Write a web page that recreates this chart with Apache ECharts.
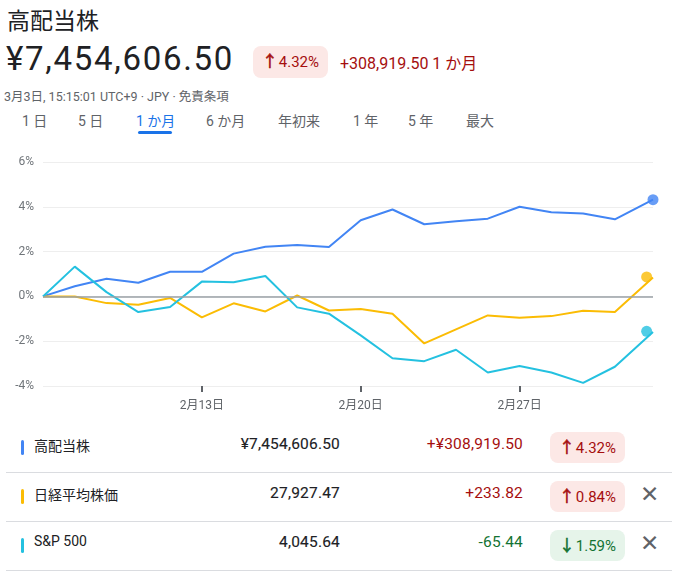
<!DOCTYPE html>
<html><head><meta charset="utf-8">
<script src="https://cdn.jsdelivr.net/npm/echarts@6/dist/echarts.min.js"></script>
<style>
html,body{margin:0;padding:0;background:#fff;width:678px;height:572px;overflow:hidden;font-family:Roboto,"Noto Sans CJK JP",sans-serif;color:#202124;}
.abs{position:absolute;white-space:nowrap;}
#chart{position:absolute;left:0;top:140px;width:678px;height:280px;}
.badge{position:absolute;height:31px;line-height:31px;border-radius:8px;padding:0 9px;font-size:15px;}
.up{background:#fce8e6;color:#a50e0e;}
.down{background:#e6f4ea;color:#137333;}
.arr{display:inline-block;font-size:1.05em;margin-right:1px;-webkit-text-stroke:0.6px currentColor;}
.sep{position:absolute;left:6px;width:666px;height:1px;background:#dadce0;}
.bar{position:absolute;left:21px;width:3px;height:15px;border-radius:2px;}
.name{position:absolute;left:34px;font-size:14px;color:#202124;}
.val{position:absolute;right:338px;font-size:15.5px;font-weight:400;color:#202124;letter-spacing:0.2px;-webkit-text-stroke:0.12px #202124;}
.chg{position:absolute;right:155px;font-size:15.5px;letter-spacing:0.2px;}
.x{position:absolute;left:640px;font-size:23px;color:#5f6368;font-family:"DejaVu Sans",sans-serif;}
.tab{position:absolute;top:110px;font-size:14px;color:#5f6368;}
</style></head>
<body>
<div class="abs" style="left:7px;top:2px;font-size:23px;">高配当株</div>
<div class="abs" style="left:6px;top:39px;font-size:33px;letter-spacing:1.7px;">¥7,454,606.50</div>
<div class="abs up" style="left:253px;top:46px;height:32px;line-height:32px;border-radius:8px;padding:0 9px;font-size:15px;"><span class="arr">↑</span>4.32%</div>
<div class="abs" style="left:340px;top:50px;font-size:16px;color:#a50e0e;">+308,919.50 1 か月</div>
<div class="abs" style="left:4px;top:86px;font-size:12.5px;color:#5f6368;">3月3日, 15:15:01 UTC+9 · JPY · 免責条項</div>

<div class="tab" style="left:22px;">1 日</div>
<div class="tab" style="left:78px;">5 日</div>
<div class="tab" style="left:136px;color:#1a73e8;">1 か月</div>
<div class="abs" style="left:138px;top:131px;width:34px;height:3px;border-radius:2px;background:#1a73e8;"></div>
<div class="tab" style="left:206px;">6 か月</div>
<div class="tab" style="left:278px;">年初来</div>
<div class="tab" style="left:353px;">1 年</div>
<div class="tab" style="left:408px;">5 年</div>
<div class="tab" style="left:466px;">最大</div>

<div id="chart"></div>

<div class="bar" style="top:440px;background:#4285f4;"></div>
<div class="name" style="top:435px;">高配当株</div>
<div class="val" style="top:435px;">¥7,454,606.50</div>
<div class="chg" style="top:435px;color:#a50e0e;">+¥308,919.50</div>
<div class="badge up" style="right:53px;top:432px;"><span class="arr">↑</span>4.32%</div>
<div class="sep" style="top:472px;"></div>

<div class="bar" style="top:489px;background:#fbbc04;"></div>
<div class="name" style="top:484px;">日経平均株価</div>
<div class="val" style="top:484px;">27,927.47</div>
<div class="chg" style="top:484px;color:#a50e0e;">+233.82</div>
<div class="badge up" style="right:53px;top:481px;"><span class="arr">↑</span>0.84%</div>
<div class="x" style="top:481px;">✕</div>
<div class="sep" style="top:521px;"></div>

<div class="bar" style="top:538px;background:#24c1e0;"></div>
<div class="name" style="top:533px;">S&amp;P 500</div>
<div class="val" style="top:533px;">4,045.64</div>
<div class="chg" style="top:533px;color:#137333;">-65.44</div>
<div class="badge down" style="right:53px;top:530px;"><span class="arr">↓</span>1.59%</div>
<div class="x" style="top:530px;">✕</div>
<div class="sep" style="top:570px;"></div>

<script>
const xIndex = [0,1,2,3,4,5,6,7,8,9,10,11,12,13,14,15,16,17,18,19.2];
const xTickValues = [5,10,15];
const xTickLabels = ['2月13日','2月20日','2月27日'];
const yTicks = [-4,-2,0,2,4,6];
const highDividend = [0,0.45,0.79,0.61,1.10,1.10,1.91,2.22,2.30,2.21,3.40,3.88,3.22,3.35,3.47,4.00,3.76,3.70,3.44,4.32];
const nikkei = [0,0,-0.30,-0.37,-0.07,-0.94,-0.31,-0.67,0.04,-0.63,-0.56,-0.77,-2.10,-1.47,-0.85,-0.95,-0.88,-0.64,-0.70,0.84];
const sp500 = [0,1.33,0.19,-0.70,-0.47,0.66,0.63,0.91,-0.49,-0.77,-1.74,-2.76,-2.89,-2.38,-3.40,-3.11,-3.40,-3.86,-3.14,-1.59];
const endDotX = [19.2,19.0,19.0];
const endDotY = [4.32,0.87,-1.56];
const seriesNames = ['高配当株','日経平均株価','S&P 500'];
const colors = ['#4285f4','#fbbc04','#24c1e0'];

const chart = echarts.init(document.getElementById('chart'), null, {renderer:'canvas'});
const lineData = [highDividend, nikkei, sp500];
const series = [{
  type:'line', data:[], silent:true,
  markLine:{silent:true, symbol:'none', label:{show:false},
    lineStyle:{color:'#9aa0a6', width:1.5, type:'solid'},
    data:[{yAxis:0}]}
}];
lineData.forEach((arr,k)=>{
  series.push({
    name:seriesNames[k], type:'line', showSymbol:false, silent:true,
    data: xIndex.map((x,i)=>[x,arr[i]]),
    lineStyle:{color:colors[k], width:2}, itemStyle:{color:colors[k]}
  });
});
endDotX.forEach((x,k)=>{
  series.push({type:'scatter', silent:true, symbolSize:11, data:[[x,endDotY[k]]], itemStyle:{color:colors[k]}, z:5});
});
chart.setOption({
  animation:false,
  grid:{left:43, width:610, top:22, height:224, containLabel:false},
  xAxis:{type:'value', min:0, max:19.2, interval:5,
    axisLine:{show:false, onZero:false}, splitLine:{show:false},
    axisTick:{show:true, customValues:xTickValues, length:6, lineStyle:{color:'#5f6368', width:2}},
    axisLabel:{customValues:xTickValues, margin:14, fontSize:12, color:'#5f6368', fontFamily:'Roboto, "Noto Sans CJK JP", sans-serif',
      formatter:(v)=>{const i=xTickValues.indexOf(v); return i>=0?xTickLabels[i]:'';}}
  },
  yAxis:{type:'value', min:yTicks[0], max:yTicks[yTicks.length-1], interval:2,
    axisLine:{show:false}, axisTick:{show:false},
    splitLine:{lineStyle:{color:'#eeeeee', width:1}},
    axisLabel:{formatter:'{value}%', fontSize:12, color:'#70757a', margin:9, fontFamily:'Roboto, sans-serif'}
  },
  series:series
});
</script>
</body></html>
